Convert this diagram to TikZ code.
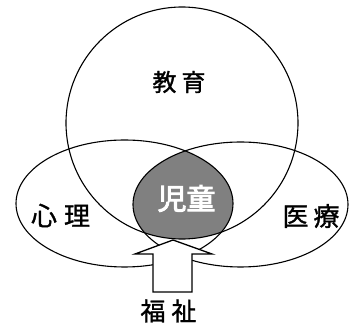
\documentclass[tikz,border=0pt]{standalone}
\usepackage{fontspec}
\newfontfamily\cjk[FakeBold=1.2]{Noto Sans CJK JP}
\newfontfamily\cjkb[FakeBold=3]{Noto Sans CJK JP}
\begin{document}
\begin{tikzpicture}[x=1pt,y=-1pt,
  outline/.style={draw=black,line width=1.1pt},
  lbl/.style={font=\cjk\fontsize{24}{24}\selectfont,inner sep=0pt,text=black},
  arrowshape/.style={draw=black,fill=white,line width=1.3pt,line join=miter}]
\useasboundingbox (0,0) rectangle (349,323);
% intersection
\begin{scope}
  \clip (182,123) circle [radius=116];
  \clip (124.5,203.5) ellipse [x radius=108.5, y radius=63.5];
  \fill[black!50] (240.5,204.5) ellipse [x radius=107.5, y radius=62.5];
\end{scope}
\draw[outline] (182,123) circle [radius=116];
\draw[outline] (124.5,203.5) ellipse [x radius=108.5, y radius=63.5];
\draw[outline] (240.5,204.5) ellipse [x radius=107.5, y radius=62.5];
% arrow
\draw[arrowshape] (173,240) -- (212,254) -- (192,254) -- (192,292) -- (153,292) -- (153,254) -- (135,254) -- cycle;
% labels
\node[lbl] (edu) at (179,82) {教\hspace{5pt}育};
\node[lbl,font=\cjk\fontsize{26}{26}\selectfont] (psy) at (60.5,215.5) {心\hspace{7pt}理};
\node[lbl,font=\cjk\fontsize{26}{26}\selectfont] (med) at (311,216) {医\hspace{5pt}療};
\node[lbl,font=\cjkb\fontsize{29}{29}\selectfont,text=white] (child) at (186.5,198.5) {児童};
\node[lbl,font=\cjk\fontsize{25}{25}\selectfont] (wel) at (168.5,311) {福\hspace{6pt}祉};
\end{tikzpicture}
\end{document}
